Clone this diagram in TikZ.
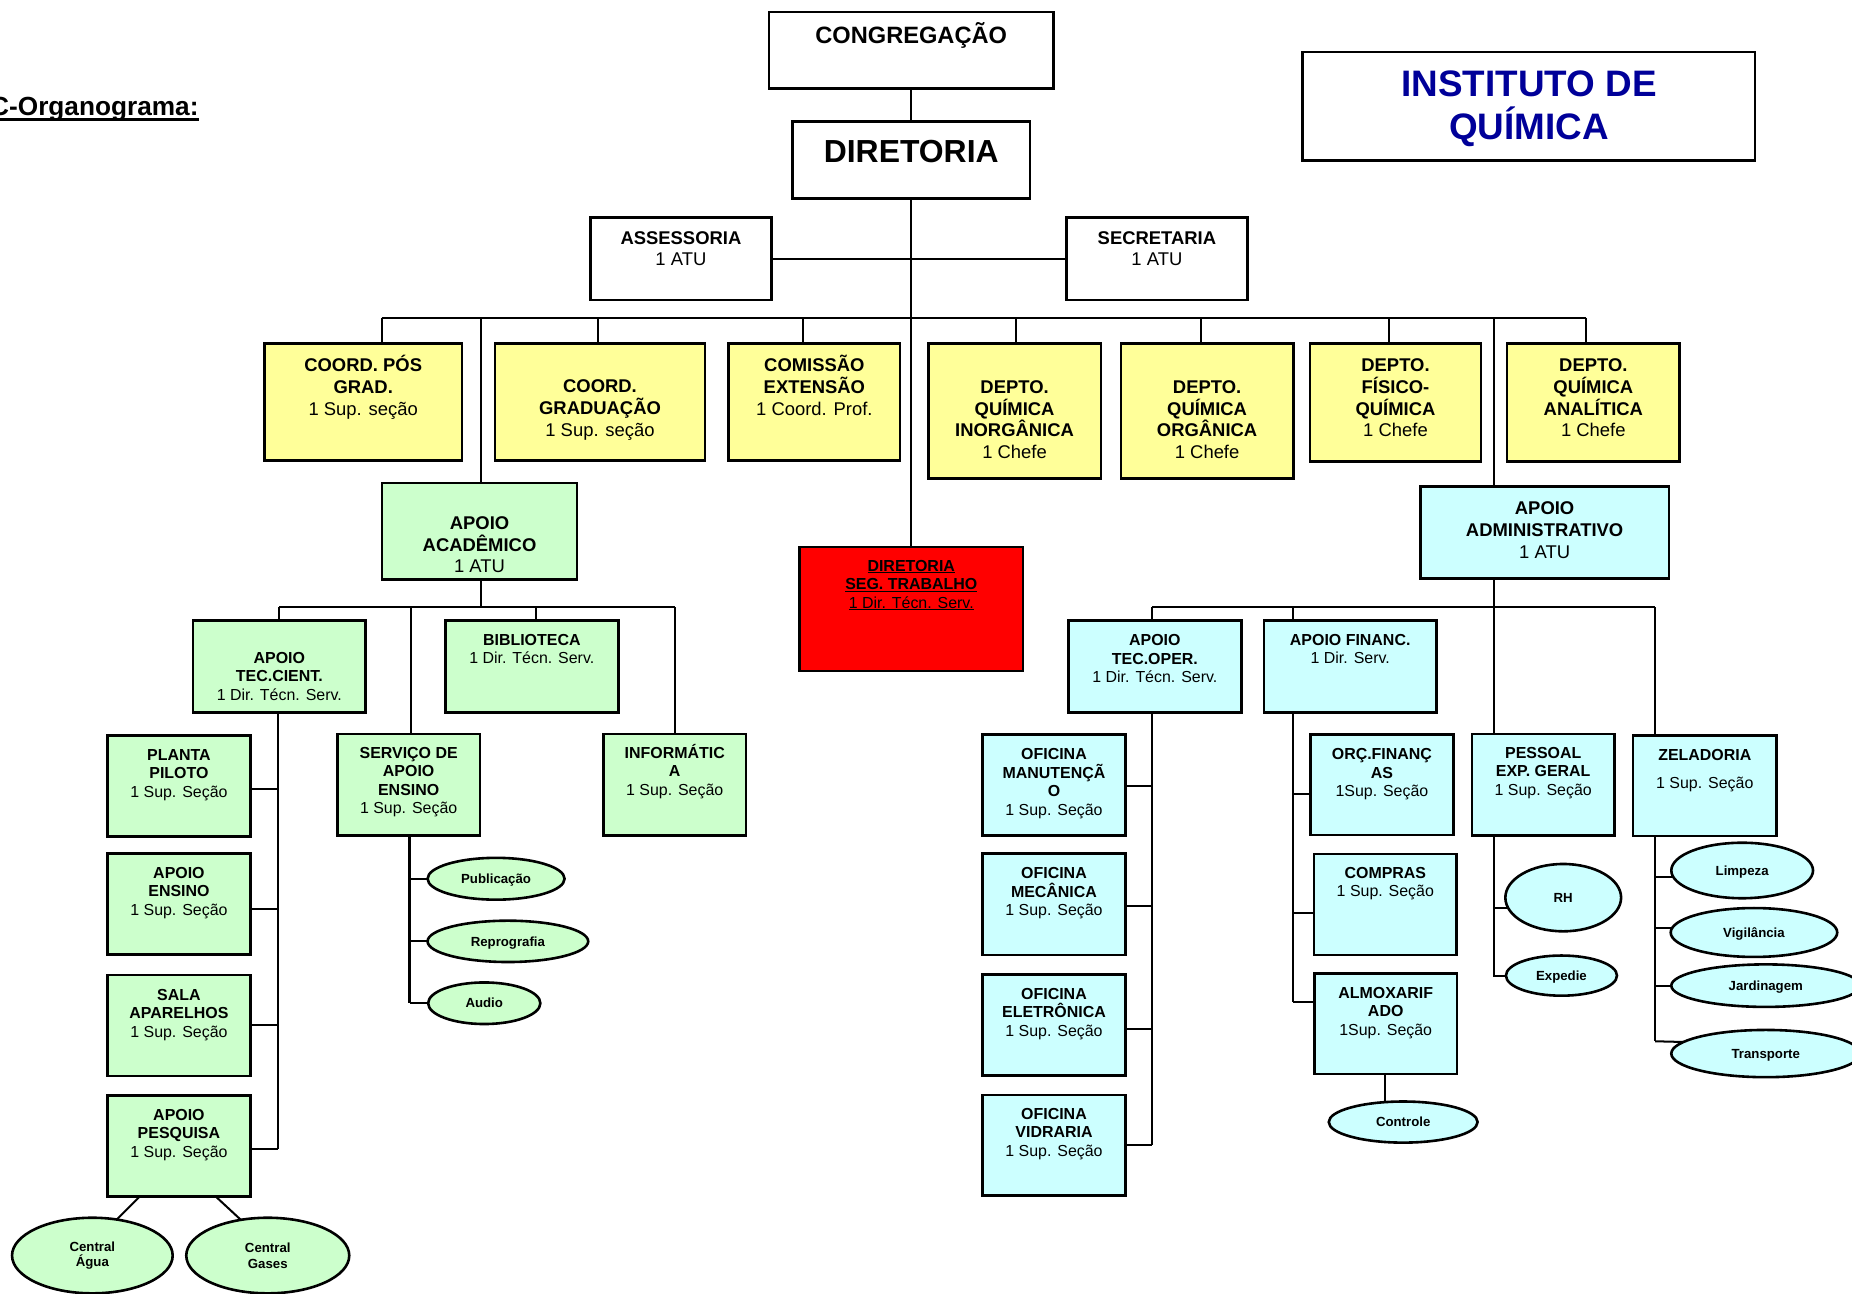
\documentclass[tikz,border=0pt]{standalone}
\usepackage{fontspec}
\setmainfont{Liberation Sans}
\usetikzlibrary{shapes.geometric}
\definecolor{yel}{HTML}{FFFF99}
\definecolor{grn}{HTML}{CCFFCC}
\definecolor{cyn}{HTML}{CCFFFF}
\definecolor{titleblue}{HTML}{000099}
\newcommand\ml[1]{\vtop{\halign{\hfil##\hfil\cr#1\crcr}}}
\newcommand\fA{\fontsize{7.8}{9.2}\selectfont}
\newcommand\fB{\fontsize{6.75}{7.85}\selectfont}
\newcommand\bfc{\bfseries}
\newcommand\ulx[3]{\setbox0\hbox{#3}\rlap{\rule[-#1]{\wd0}{#2}}\box0}
% name, fill, x1, y1, x2, y2, first baseline, content
\newcommand\obox[8]{%
  \node[box,#2,minimum width={(#5-#3)*0.5pt},minimum height={(#6-#4)*0.5pt}] (#1) at ({(#3+#5)/2},{(#4+#6)/2}) {};
  \node[txt] (#1-t) at ({(#3+#5)/2},#7) {#8};}
% name, style, fill, cx, cy, rx, ry, text
\newcommand\ellp[8]{%
  \node[#2,fill=#3,minimum width={#6*1pt},minimum height={#7*1pt}] (#1) at (#4,#5) {#8};}
\begin{document}
\begin{tikzpicture}[x=0.5pt,y=-0.5pt,
  box/.style={draw=black,line width=1.1pt,rectangle,inner sep=0pt,outer sep=0pt},
  txt/.style={anchor=base,inner sep=0pt,outer sep=0pt},
  conn/.style={draw=black,line width=0.85pt},
  ellb/.style={draw=black,line width=1.1pt,ellipse,inner sep=0pt,outer sep=0pt,font=\fontsize{5.6}{6.6}\selectfont\bfseries},
  ell/.style={ellb,text height=4pt,text depth=0pt},
  elltwo/.style={ellb,align=center}]
\useasboundingbox (0,0) rectangle (1568,1095);

% title at left
\node[anchor=base east,inner sep=0pt,font=\fontsize{11.1}{13}\selectfont\bfseries] (orgtitle) at (168.5,97.4) {\ulx{2.5pt}{1.4pt}{C-Organograma:}};

% ---------- top ----------
\obox{cong}{fill=white}{651}{10}{892}{75}{36.7}{\fontsize{10}{12}\selectfont\bfseries CONGREGAÇÃO}
\obox{dir}{fill=white}{671}{103}{872}{168}{137.4}{\fontsize{13.5}{16}\selectfont\bfseries DIRETORIA}
\obox{inst}{fill=white}{1103}{44}{1486}{136}{81.8}{\fontsize{15.6}{18.35}\selectfont\bfseries\color{titleblue}\ml{INSTITUTO DE\cr QUÍMICA}}
\obox{ass}{fill=white}{500}{184}{653}{254}{206.6}{\fA\ml{\bfc ASSESSORIA\cr 1 ATU}}
\obox{sec}{fill=white}{903}{184}{1056}{254}{206.6}{\fA\ml{\bfc SECRETARIA\cr 1 ATU}}

% ---------- yellow row ----------
\obox{pos}{fill=yel}{224}{291}{391}{390}{314.7}{\fA\ml{\bfc COORD. PÓS\cr\bfc GRAD.\cr 1 Sup. seção}}
\obox{grad}{fill=yel}{419}{291}{597}{390}{332.5}{\fA\ml{\bfc COORD.\cr\bfc GRADUAÇÃO\cr 1 Sup. seção}}
\obox{ext}{fill=yel}{617}{291}{762}{390}{314.7}{\fA\ml{\bfc COMISSÃO\cr\bfc EXTENSÃO\cr 1 Coord. Prof.}}
\obox{inorg}{fill=yel}{786}{291}{932}{405}{333}{\fA\ml{\bfc DEPTO.\cr\bfc QUÍMICA\cr\bfc INORGÂNICA\cr 1 Chefe}}
\obox{org}{fill=yel}{949}{291}{1095}{405}{333}{\fA\ml{\bfc DEPTO.\cr\bfc QUÍMICA\cr\bfc ORGÂNICA\cr 1 Chefe}}
\obox{fis}{fill=yel}{1109}{291}{1254}{390.5}{314.7}{\fA\ml{\bfc DEPTO.\cr\bfc FÍSICO-\cr\bfc QUÍMICA\cr 1 Chefe}}
\obox{anal}{fill=yel}{1276}{291}{1422}{390.5}{314.7}{\fA\ml{\bfc DEPTO.\cr\bfc QUÍMICA\cr\bfc ANALÍTICA\cr 1 Chefe}}

% ---------- second level ----------
\obox{ac}{fill=grn}{323.5}{409}{488.5}{490.5}{448.2}{\fA\ml{\bfc APOIO\cr\bfc ACADÊMICO\cr 1 ATU}}
\obox{adm}{fill=cyn}{1202.5}{412}{1413}{489.7}{436}{\fA\ml{\bfc APOIO\cr\bfc ADMINISTRATIVO\cr 1 ATU}}
\obox{seg}{fill=red}{677}{463}{866}{568}{483.5}{\fB\ml{\bfc\ulx{0.9pt}{0.45pt}{DIRETORIA}\cr\bfc\ulx{0.9pt}{0.45pt}{SEG. TRABALHO}\cr\ulx{0.9pt}{0.45pt}{1 Dir. Técn. Serv.}}}

% ---------- academic side ----------
\obox{tec}{fill=grn}{163.5}{525.5}{309.5}{603}{561.6}{\fB\ml{\bfc APOIO\cr\bfc TEC.CIENT.\cr 1 Dir. Técn. Serv.}}
\obox{bib}{fill=grn}{377}{525.5}{523.5}{603}{546.1}{\fB\ml{\bfc BIBLIOTECA\cr 1 Dir. Técn. Serv.}}
\obox{serv}{fill=grn}{285.5}{621.5}{406.5}{707.5}{642}{\fB\ml{\bfc SERVIÇO DE\cr\bfc APOIO\cr\bfc ENSINO\cr 1 Sup. Seção}}
\obox{inf}{fill=grn}{511}{621.5}{631.5}{707.5}{642}{\fB\ml{\bfc INFORMÁTIC\cr\bfc A\cr 1 Sup. Seção}}
\obox{planta}{fill=grn}{91}{622.5}{212}{708}{643.5}{\fB\ml{\bfc PLANTA\cr\bfc PILOTO\cr 1 Sup. Seção}}
\obox{aens}{fill=grn}{91}{722.5}{212}{808}{743.7}{\fB\ml{\bfc APOIO\cr\bfc ENSINO\cr 1 Sup. Seção}}
\obox{sala}{fill=grn}{91}{825.5}{212}{911}{846.7}{\fB\ml{\bfc SALA\cr\bfc APARELHOS\cr 1 Sup. Seção}}
\obox{pesq}{fill=grn}{91}{927.5}{212}{1013}{948.3}{\fB\ml{\bfc APOIO\cr\bfc PESQUISA\cr 1 Sup. Seção}}

\ellp{pub}{ell}{grn}{420}{744}{58}{17.7}{Publicação}
\ellp{repro}{ell}{grn}{430}{797}{68}{17.5}{Reprografia}
\ellp{audio}{ell}{grn}{410}{849.4}{47.5}{17.6}{Audio}
\ellp{cagua}{elltwo}{grn}{78.2}{1063}{68}{32}{Central\\Água}
\ellp{cgas}{elltwo}{grn}{226.7}{1063}{69}{32}{Central\\Gases}

% ---------- administrative side ----------
\obox{tecop}{fill=cyn}{904.5}{525.5}{1051}{603}{546.7}{\fB\ml{\bfc APOIO\cr\bfc TEC.OPER.\cr 1 Dir. Técn. Serv.}}
\obox{fin}{fill=cyn}{1070.3}{525.5}{1216}{603}{546.1}{\fB\ml{\bfc APOIO FINANC.\cr 1 Dir. Serv.}}
\obox{manut}{fill=cyn}{832}{622}{952.7}{707.3}{643}{\fB\ml{\bfc OFICINA\cr\bfc MANUTENÇÃ\cr\bfc O\cr 1 Sup. Seção}}
\obox{mec}{fill=cyn}{832}{722.8}{952.7}{808.6}{744}{\fB\ml{\bfc OFICINA\cr\bfc MECÂNICA\cr 1 Sup. Seção}}
\obox{elet}{fill=cyn}{832}{825}{952.7}{910.8}{846.1}{\fB\ml{\bfc OFICINA\cr\bfc ELETRÔNICA\cr 1 Sup. Seção}}
\obox{vid}{fill=cyn}{832}{927}{952.7}{1012.4}{947.7}{\fB\ml{\bfc OFICINA\cr\bfc VIDRARIA\cr 1 Sup. Seção}}
\obox{orc}{fill=cyn}{1109.5}{621.8}{1230.5}{707.1}{643}{\fB\ml{\bfc ORÇ.FINANÇ\cr\bfc AS\cr 1Sup. Seção}}
\obox{comp}{fill=cyn}{1112.5}{723}{1233.3}{808.6}{743.7}{\fB\ml{\bfc COMPRAS\cr 1 Sup. Seção}}
\obox{almox}{fill=cyn}{1113}{824}{1233.4}{909.4}{845.3}{\fB\ml{\bfc ALMOXARIF\cr\bfc ADO\cr 1Sup. Seção}}
\obox{pes}{fill=cyn}{1246.3}{621.5}{1366.8}{707.3}{642}{\fB\ml{\bfc PESSOAL\cr\bfc EXP. GERAL\cr 1 Sup. Seção}}
\obox{zel}{fill=cyn}{1382.7}{622.6}{1504}{707.8}{643.5}{\fB\ml{\bfc ZELADORIA\cr\noalign{\vskip4.2pt}1 Sup. Seção}}

\ellp{ctrl}{ell}{cyn}{1188}{950}{63}{17.4}{Controle}
\ellp{rh}{ell}{cyn}{1323.5}{760}{49}{28.5}{RH}
\ellp{exped}{ell}{cyn}{1322}{826}{47}{17}{Expedie}
\ellp{limp}{ell}{cyn}{1475}{737}{60}{23.5}{Limpeza}
\ellp{vig}{ell}{cyn}{1485}{789.5}{70.5}{20.7}{Vigilância}
\ellp{jard}{ell}{cyn}{1495}{834.5}{80}{18}{Jardinagem}
\ellp{transp}{ell}{cyn}{1495}{892}{80}{20}{Transporte}

% ---------- connectors ----------
\draw[conn] (cong.south) -- (dir.north);
\draw[conn] (dir.south) -- (seg.north);
\draw[conn] (ass.east) -- (sec.west);
\coordinate (bL) at (323,269);
\coordinate (bR) at (1343,269);
\draw[conn] (bL) -- (bR);
\coordinate (c-pos) at (323,269);
\coordinate (c-grad) at (506,269);
\coordinate (c-ext) at (680,269);
\coordinate (c-inorg) at (860,269);
\coordinate (c-org) at (1017,269);
\coordinate (c-fis) at (1176,269);
\coordinate (c-anal) at (1343,269);
\coordinate (c-ac) at (407,269);
\coordinate (c-adm) at (1265.3,269);
\foreach \n in {pos,grad,ext,inorg,org,fis,anal,ac}
  \draw[conn] (c-\n) -- (c-\n |- \n.north);

% academic sub-tree
\coordinate (sL) at (236.3,514);
\coordinate (sR) at (571.5,514);
\coordinate (s2) at (347.7,514);
\coordinate (s3) at (453.6,514);
\draw[conn] (c-ac |- ac.south) -- (c-ac |- sL);
\draw[conn] (sL) -- (sR);
\draw[conn] (sL) -- (sL |- tec.north);
\draw[conn] (s2) -- (s2 |- serv.north);
\draw[conn] (s3) -- (s3 |- bib.north);
\draw[conn] (sR) -- (sR |- inf.north);
\coordinate (lc) at (235.2,972.6);
\draw[conn] (lc |- tec.south) -- (lc);
\draw[conn] (planta.east |- 0,668.3) -- (lc |- 0,668.3);
\draw[conn] (aens.east |- 0,770) -- (lc |- 0,770);
\draw[conn] (sala.east |- 0,867.9) -- (lc |- 0,867.9);
\draw[conn] (pesq.east |- lc) -- (lc);
\draw[conn] (118.3,0 |- pesq.south) -- (cagua.56);
\draw[conn] (182.6,0 |- pesq.south) -- (cgas.127);
\coordinate (svb) at (346.7,849.4);
\draw[conn] (svb |- serv.south) -- (svb);
\draw[conn] (pub.west) -- (pub.west -| svb);
\draw[conn] (repro.west) -- (repro.west -| svb);
\draw[conn] (audio.west) -- (svb);

% administrative sub-tree
\coordinate (rL) at (975.7,514);
\coordinate (rR) at (1401.3,514);
\coordinate (r2) at (1094.6,514);
\draw[conn] (c-adm) -- (c-adm |- adm.north);
\draw[conn] (c-adm |- adm.south) -- (c-adm |- pes.north);
\draw[conn] (rL) -- (rR);
\draw[conn] (rL) -- (rL |- tecop.north);
\draw[conn] (r2) -- (r2 |- fin.north);
\draw[conn] (rR) -- (rR |- zel.north);
\coordinate (tc) at (975.3,969);
\draw[conn] (tc |- tecop.south) -- (tc);
\draw[conn] (manut.east |- 0,665.2) -- (tc |- 0,665.2);
\draw[conn] (mec.east |- 0,766.8) -- (tc |- 0,766.8);
\draw[conn] (elet.east |- 0,871) -- (tc |- 0,871);
\draw[conn] (vid.east |- tc) -- (tc);
\coordinate (fc) at (1094.6,848.6);
\draw[conn] (fc |- fin.south) -- (fc);
\draw[conn] (orc.west |- 0,672.3) -- (fc |- 0,672.3);
\draw[conn] (comp.west |- 0,773) -- (fc |- 0,773);
\draw[conn] (almox.west |- fc) -- (fc);
\coordinate (ac1) at (1172.8,0);
\draw[conn] (ac1 |- almox.south) -- (ac1 |- ctrl.north);
\coordinate (pc) at (1265.3,827);
\draw[conn] (pc |- pes.south) -- (pc);
\draw[conn] (rh.191) -- (rh.191 -| pc);
\draw[conn] (exped.west) -- (exped.west -| pc);
\coordinate (zc) at (1401.3,881.6);
\draw[conn] (zc |- zel.south) -- (zc);
\draw[conn] (limp.185) -- (limp.185 -| zc);
\draw[conn] (vig.177.5) -- (vig.177.5 -| zc);
\draw[conn] (jard.west) -- (jard.west -| zc);
\draw[conn] (transp.172.4) -- (zc);
\end{tikzpicture}
\end{document}
